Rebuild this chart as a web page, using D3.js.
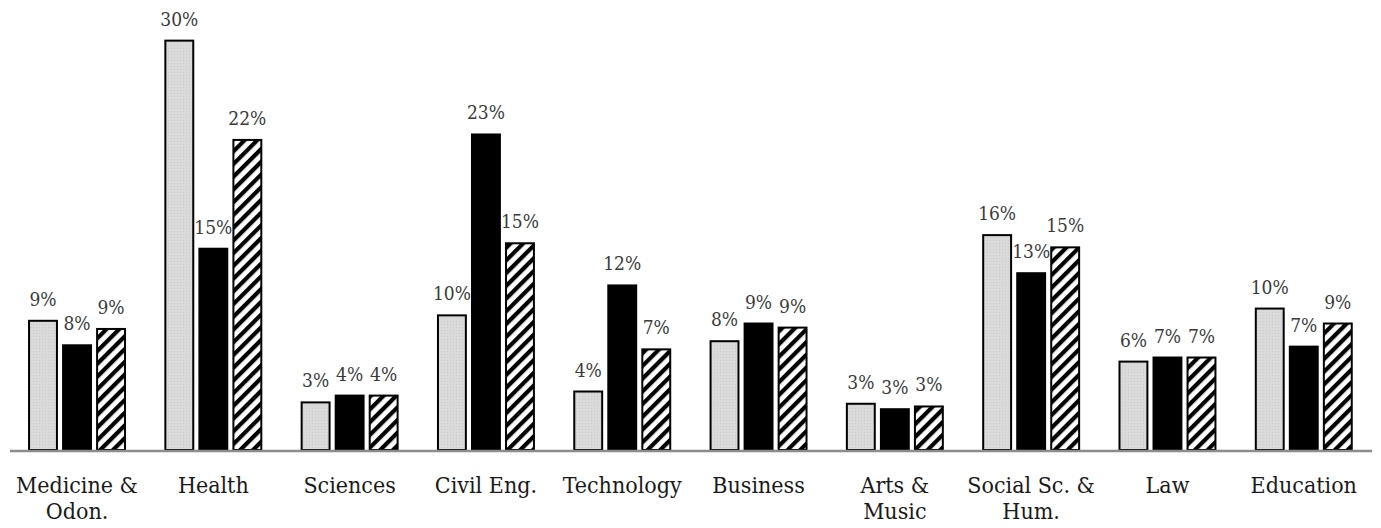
<!DOCTYPE html>
<html>
<head>
<meta charset="utf-8">
<script src="https://cdn.jsdelivr.net/npm/d3@7"></script>
<style>
  body { margin: 0; background: #fff; }
  text { font-family: "DejaVu Serif Condensed", "DejaVu Serif", serif; }
</style>
</head>
<body>
<div id="chart"></div>
<script>
// Categories and series values (percent)
const categories = [["Medicine &", "Odon."], ["Health"], ["Sciences"], ["Civil Eng."], ["Technology"],
    ["Business"], ["Arts &", "Music"], ["Social Sc. &", "Hum."], ["Law"], ["Education"]];
const seriesNames = ["gray", "black", "hatched"];
const grayValues    = [9.5, 30.1, 3.5, 9.9, 4.3, 8.0, 3.4, 15.8, 6.5, 10.4];
const blackValues   = [7.7, 14.8, 4.0, 23.2, 12.1, 9.3, 3.0, 13.0, 6.8, 7.6];
const hatchedValues = [8.9, 22.8, 4.0, 15.2, 7.4, 9.0, 3.2, 14.9, 6.8, 9.3];
const grayLabels    = ["9%", "30%", "3%", "10%", "4%", "8%", "3%", "16%", "6%", "10%"];
const blackLabels   = ["8%", "15%", "4%", "23%", "12%", "9%", "3%", "13%", "7%", "7%"];
const hatchedLabels = ["9%", "22%", "4%", "15%", "7%", "9%", "3%", "15%", "7%", "9%"];

const width = 1381, height = 528;
const baseY = 450;

const svg = d3.select("#chart")
    .append("svg")
    .attr("width", width)
    .attr("height", height);

const defs = svg.append("defs");

// Hatch pattern
const pat = defs.append("pattern")
    .attr("id", "hatch")
    .attr("patternUnits", "userSpaceOnUse")
    .attr("width", 9)
    .attr("height", 9)
    .attr("patternTransform", "rotate(45)");
pat.append("rect").attr("width", 9).attr("height", 9).attr("fill", "#fff");
pat.append("rect").attr("width", 4.2).attr("height", 9).attr("fill", "#000");

// Light grey dotted texture
const dots = defs.append("pattern")
    .attr("id", "dots")
    .attr("patternUnits", "userSpaceOnUse")
    .attr("width", 3)
    .attr("height", 3);
dots.append("rect").attr("width", 3).attr("height", 3).attr("fill", "#dadada");
dots.append("rect").attr("width", 1).attr("height", 1).attr("fill", "#cbcbcb");

const g = svg.append("g");

const x0 = d3.scaleBand()
    .domain(d3.range(categories.length))
    .range([8.6, 1372.2])
    .paddingInner(0.296)
    .paddingOuter(0.15);

const x1 = d3.scaleBand()
    .domain(seriesNames)
    .range([0, x0.bandwidth()])
    .paddingInner(0.18);

const y = d3.scaleLinear()
    .domain([0, 30])
    .range([baseY, baseY - 408]);

const series = [
    { key: "gray", values: grayValues, labels: grayLabels, fill: "url(#dots)" },
    { key: "black", values: blackValues, labels: blackLabels, fill: "#000" },
    { key: "hatched", values: hatchedValues, labels: hatchedLabels, fill: "url(#hatch)" }
];

// Bars and value labels
series.forEach(s => {
    g.selectAll(".bar-" + s.key)
        .data(s.values)
        .enter()
        .append("rect")
        .attr("x", (d, i) => x0(i) + x1(s.key))
        .attr("y", d => y(d))
        .attr("width", x1.bandwidth())
        .attr("height", d => y(0) - y(d))
        .attr("fill", s.fill)
        .attr("stroke", "#000")
        .attr("stroke-width", 2);

    g.selectAll(".lbl-" + s.key)
        .data(s.values)
        .enter()
        .append("text")
        .attr("x", (d, i) => x0(i) + x1(s.key) + x1.bandwidth() / 2)
        .attr("y", d => y(d) - 15)
        .attr("text-anchor", "middle")
        .style("font-size", "19px")
        .style("fill", "#3a3a3a")
        .text((d, i) => s.labels[i]);
});

// Axis line
g.append("line")
    .attr("x1", 10)
    .attr("x2", 1372)
    .attr("y1", baseY + 1)
    .attr("y2", baseY + 1)
    .attr("stroke", "#8c8c8c")
    .attr("stroke-width", 2.5);

// Category labels
const cat = g.selectAll(".cat")
    .data(categories)
    .enter()
    .append("text")
    .attr("x", (d, i) => x0(i) + x0.bandwidth() / 2)
    .attr("y", baseY + 43)
    .attr("text-anchor", "middle")
    .style("font-size", "23px")
    .style("fill", "#1a1a1a");

cat.selectAll("tspan")
    .data(d => d)
    .enter()
    .append("tspan")
    .attr("x", function () { return d3.select(this.parentNode).attr("x"); })
    .attr("dy", (d, i) => i === 0 ? 0 : 26)
    .text(d => d);
</script>
</body>
</html>
